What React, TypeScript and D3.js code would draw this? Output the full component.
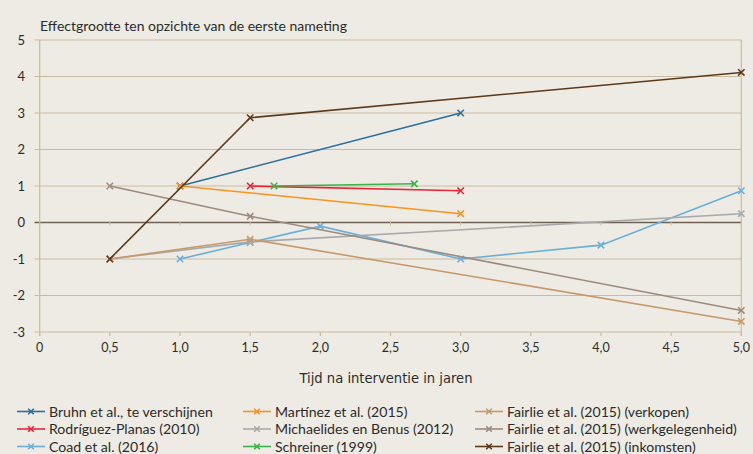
import React from "react";
import * as d3 from "d3";

const W = 753;
const H = 454;

// each series: years after intervention, effect size
const seriesNames = [
  "Bruhn et al., te verschijnen",
  "Rodríguez-Planas (2010)",
  "Coad et al. (2016)",
  "Martínez et al. (2015)",
  "Michaelides en Benus (2012)",
  "Schreiner (1999)",
  "Fairlie et al. (2015) (verkopen)",
  "Fairlie et al. (2015) (werkgelegenheid)",
  "Fairlie et al. (2015) (inkomsten)",
];
const seriesColors = [
  "#2a6f9e",
  "#e8263a",
  "#6aafd8",
  "#f7941d",
  "#a9a9a9",
  "#3bb34a",
  "#c49a6c",
  "#9c8a7f",
  "#5b3a1c",
];
const bruhn = [[1.0, 1], [3.0, 3]];
const rodriguez = [[1.5, 1], [3.0, 0.87]];
const coad = [[1.0, -1], [1.5, -0.55], [2.0, -0.1], [3.0, -1], [4.0, -0.62], [5.0, 0.87]];
const martinez = [[1.0, 1], [3.0, 0.24]];
const michaelides = [[0.5, -1], [1.5, -0.53], [5.0, 0.24]];
const schreiner = [[1.67, 1], [2.67, 1.06]];
const fairlieVerkopen = [[0.5, -1], [1.5, -0.46], [5.0, -2.71]];
const fairlieWerk = [[0.5, 1], [1.5, 0.17], [5.0, -2.41]];
const fairlieInkomsten = [[0.5, -1], [1.5, 2.87], [5.0, 4.11]];
const seriesData = [bruhn, rodriguez, coad, martinez, michaelides, schreiner, fairlieVerkopen, fairlieWerk, fairlieInkomsten];

const xTicks = [0, 0.5, 1, 1.5, 2, 2.5, 3, 3.5, 4, 4.5, 5];
const yTicks = [-3, -2, -1, 0, 1, 2, 3, 4, 5];

const x = d3.scaleLinear().domain([0, 5]).range([39.7, 741.3]);
const y = d3.scaleLinear().domain([-3, 5]).range([332, 40]);
const line = d3.line<number[]>().x((d) => x(d[0])).y((d) => y(d[1]));

const fmtX = (v: number) => (v === 0 ? "0" : v.toFixed(1).replace(".", ","));

const font = "Lato, 'Open Sans', sans-serif";
const grid = "#c9bba0";
const txt = "#2b2b2b";

const Cross = ({ cx, cy, color, s = 3.2 }: { cx: number; cy: number; color: string; s?: number }) => (
  <path d={`M${cx - s},${cy - s}L${cx + s},${cy + s}M${cx - s},${cy + s}L${cx + s},${cy - s}`} stroke={color} strokeWidth={1.6} />
);

export default function App() {
  const legendCols = [17, 243, 475];
  const legendRows = [411.5, 429, 446.5];
  return (
    <svg width={W} height={H} style={{ position: "absolute", left: 0, top: 0, background: "#eeebe4" }} fontFamily={font}>
      <rect width={W} height={H} fill="#eeebe4" />
      {/* grid */}
      {yTicks.map((t) => (
        <g key={t}>
          <line x1={34.5} x2={741.3} y1={y(t)} y2={y(t)} stroke={t === 0 ? "#6e5f54" : grid} strokeWidth={t === 0 ? 1.5 : 1.2} />
          <text x={25} y={y(t)} dy="0.35em" textAnchor="end" fontSize={13} fill={txt}>
            {t}
          </text>
        </g>
      ))}
      <line x1={x(0)} x2={x(0)} y1={40} y2={336} stroke={grid} strokeWidth={1.2} />
      <line x1={x(5)} x2={x(5)} y1={40} y2={336} stroke={grid} strokeWidth={1.2} />
      {xTicks.map((t) => (
        <g key={t}>
          <line x1={x(t)} x2={x(t)} y1={332} y2={336} stroke={grid} strokeWidth={1.2} />
          <line x1={x(t)} x2={x(t)} y1={y(0) - 1} y2={y(0) + 3} stroke={grid} strokeWidth={1} />
          <text x={x(t)} y={352} textAnchor="middle" fontSize={12.5} fill={txt}>
            {fmtX(t)}
          </text>
        </g>
      ))}
      <text x={40} y={31} fontSize={14} fill={txt}>
        Effectgrootte ten opzichte van de eerste nameting
      </text>
      <text x={386} y={383} textAnchor="middle" fontSize={14.6} fontFamily="'Liberation Sans Narrow', 'DejaVu Sans Condensed', sans-serif" fill={txt}>
        Tijd na interventie in jaren
      </text>
      {/* series */}
      {seriesData.map((pts, i) => (
        <g key={seriesNames[i]}>
          <path d={line(pts) || ""} fill="none" stroke={seriesColors[i]} strokeWidth={1.6} />
          {pts.map((p, j) => (
            <Cross key={j} cx={x(p[0])} cy={y(p[1])} color={seriesColors[i]} />
          ))}
        </g>
      ))}
      {/* legend */}
      {seriesNames.map((name, i) => {
        const lx = legendCols[Math.floor(i / 3)];
        const ly = legendRows[i % 3];
        return (
          <g key={name}>
            <line x1={lx} x2={lx + 28} y1={ly} y2={ly} stroke={seriesColors[i]} strokeWidth={1.6} />
            <Cross cx={lx + 14} cy={ly} color={seriesColors[i]} s={2.8} />
            <text x={lx + 32} y={ly} dy="0.36em" fontSize={14.1} fill={txt}>
              {name}
            </text>
          </g>
        );
      })}
    </svg>
  );
}
